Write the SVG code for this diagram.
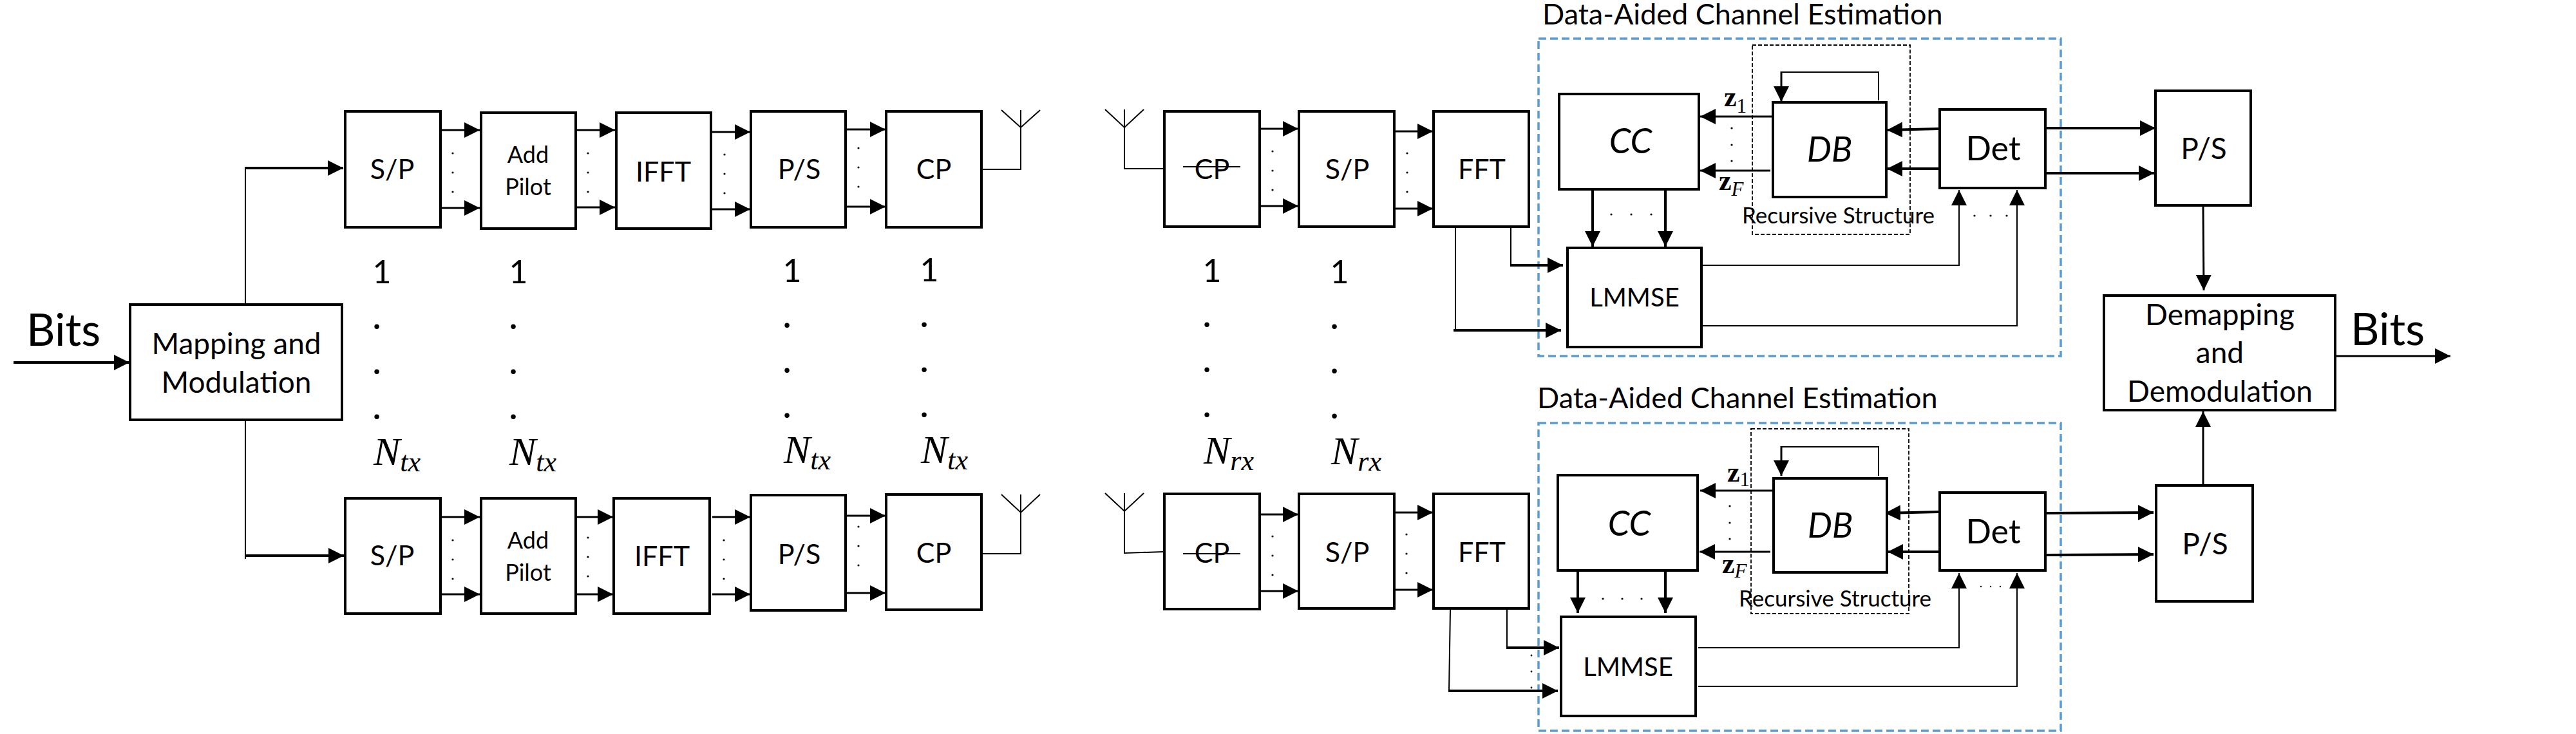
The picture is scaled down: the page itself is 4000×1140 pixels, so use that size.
<svg xmlns="http://www.w3.org/2000/svg" width="4000" height="1140" viewBox="0 0 4000 1140">
<style>
text{font-family:"Lato","Open Sans","Liberation Sans",sans-serif;fill:#000;text-anchor:middle}
.box{fill:#fff;stroke:#000;stroke-width:4}
.t44{font-size:46px}.t40{font-size:43px}.t36{font-size:36px}.t38{font-size:40px}.t50{font-size:54px;font-style:italic}.t49{font-size:52px}.t1{font-size:50px}
.bits{font-size:69px;text-anchor:start}
.title{font-size:45px;text-anchor:start}
.rec{font-size:35px;text-anchor:start}
.dot{font-size:60px}
.m{font-family:"Liberation Serif",serif;font-style:italic;font-size:62px;text-anchor:start}
.m tspan{font-size:44px}
.z{font-family:"Liberation Serif",serif;font-weight:bold;font-size:44px;text-anchor:start}
.z tspan{font-family:"Liberation Serif",serif;font-weight:normal;font-size:31px}
.z .i{font-style:italic}
.c path,.c polyline,.c line{fill:none;stroke:#000}
.thin{stroke-width:2}.med{stroke-width:3}.thick{stroke-width:4}
.arr{marker-end:url(#a)}
.blue{fill:none;stroke:#5b9bd5;stroke-width:3.5;stroke-dasharray:12 6}
.rs{fill:none;stroke:#000;stroke-width:1.8;stroke-dasharray:6 3}
.ant{fill:none;stroke:#000;stroke-width:2}
.strike{stroke:#000;stroke-width:2}
.sd{fill:#000}
</style>
<defs>
<marker id="a" markerUnits="userSpaceOnUse" markerWidth="24" markerHeight="24" refX="24" refY="12" orient="auto"><path d="M0,0L24,12L0,24z" fill="#000"/></marker>
<g id="d3v"><circle cx="0" cy="0" r="1.6"/><circle cx="0" cy="30" r="1.6"/><circle cx="0" cy="60" r="1.6"/></g>
</defs>

<g id="regions">
<rect class="blue" x="2389" y="60" width="811" height="493"/>
<rect class="rs" x="2721" y="70" width="245" height="294"/>
<rect class="blue" x="2389" y="657" width="811" height="478"/>
<rect class="rs" x="2719" y="666" width="245" height="287"/>
</g>

<g id="connectors" class="c">
<line class="thick arr" x1="21" y1="563" x2="201" y2="563"/>
<polyline class="thin" points="381,475 381,261"/><line class="thick arr" x1="380" y1="261" x2="533" y2="261"/>
<polyline class="thin" points="381,653 381,868"/><line class="thick arr" x1="380" y1="863" x2="534" y2="863"/>
<!-- tx upper -->
<line class="med arr" x1="686" y1="202" x2="745" y2="202"/><line class="med arr" x1="686" y1="323" x2="745" y2="323"/>
<line class="med arr" x1="895" y1="202" x2="955" y2="202"/><line class="med arr" x1="895" y1="322" x2="955" y2="322"/>
<line class="med arr" x1="1106" y1="205" x2="1165" y2="205"/><line class="med arr" x1="1106" y1="325" x2="1165" y2="325"/>
<line class="med arr" x1="1315" y1="201" x2="1375" y2="201"/><line class="med arr" x1="1315" y1="321" x2="1375" y2="321"/>
<!-- tx lower -->
<line class="med arr" x1="686" y1="803" x2="745" y2="803"/><line class="med arr" x1="686" y1="923" x2="745" y2="923"/>
<line class="med arr" x1="895" y1="803" x2="952" y2="803"/><line class="med arr" x1="895" y1="923" x2="952" y2="923"/>
<line class="med arr" x1="1106" y1="803" x2="1165" y2="803"/><line class="med arr" x1="1106" y1="923" x2="1165" y2="923"/>
<line class="med arr" x1="1315" y1="801" x2="1375" y2="801"/><line class="med arr" x1="1315" y1="921" x2="1375" y2="921"/>
<!-- rx upper -->
<line class="med arr" x1="1958" y1="200" x2="2016" y2="200"/><line class="med arr" x1="1958" y1="320" x2="2016" y2="320"/>
<line class="med arr" x1="2167" y1="204" x2="2225" y2="204"/><line class="med arr" x1="2167" y1="324" x2="2225" y2="324"/>
<polyline class="thin" points="2346,354 2346,412"/><line class="thick arr" x1="2345" y1="412" x2="2427" y2="412"/>
<polyline class="thin" points="2260,354 2260,513"/><line class="thick arr" x1="2257" y1="513" x2="2424" y2="513"/>
<line class="thick arr" x1="2473" y1="295" x2="2473" y2="383"/><line class="thick arr" x1="2586" y1="295" x2="2586" y2="383"/>
<line class="med arr" x1="2752" y1="181" x2="2640" y2="181"/><line class="med arr" x1="2749" y1="265" x2="2640" y2="265"/>
<line class="thick arr" x1="3010" y1="200" x2="2930" y2="202"/><line class="thick arr" x1="3010" y1="262" x2="2930" y2="262"/>
<polyline class="thin" points="2917,156 2917,112 2766,112"/><line class="med arr" x1="2766" y1="111" x2="2766" y2="158"/>
<polyline class="thin arr" points="2644,412 3042,412 3042,295"/><polyline class="thin arr" points="2644,506 3132,506 3132,295"/>
<line class="thick arr" x1="3178" y1="199" x2="3347" y2="199"/><line class="thick arr" x1="3178" y1="269" x2="3345" y2="269"/>
<line class="med arr" x1="3421" y1="321" x2="3422" y2="451"/>
<!-- rx lower -->
<line class="med arr" x1="1958" y1="799" x2="2016" y2="799"/><line class="med arr" x1="1958" y1="918" x2="2016" y2="918"/>
<line class="med arr" x1="2167" y1="796" x2="2225" y2="796"/><line class="med arr" x1="2167" y1="916" x2="2225" y2="916"/>
<polyline class="thin" points="2340,947 2340,1006"/><line class="thick arr" x1="2339" y1="1006" x2="2421" y2="1006"/>
<polyline class="thin" points="2252,947 2250,1073"/><line class="thick arr" x1="2249" y1="1073" x2="2419" y2="1073"/>
<line class="thick arr" x1="2450" y1="888" x2="2450" y2="952"/><line class="thick arr" x1="2586" y1="888" x2="2586" y2="952"/>
<line class="med arr" x1="2752" y1="762" x2="2640" y2="762"/><line class="med arr" x1="2749" y1="857" x2="2639" y2="857"/>
<line class="thick arr" x1="3010" y1="795" x2="2927" y2="797"/><line class="thick arr" x1="3010" y1="857" x2="2931" y2="857"/>
<polyline class="thin" points="2917,739 2917,694 2766,694"/><line class="med arr" x1="2766" y1="693" x2="2766" y2="739"/>
<polyline class="thin arr" points="2637,1006 3042,1006 3042,890"/><polyline class="thin arr" points="2637,1066 3132,1066 3132,890"/>
<line class="thick arr" x1="3178" y1="797" x2="3344" y2="796"/><line class="thick arr" x1="3178" y1="862" x2="3344" y2="861"/>
<line class="med arr" x1="3421" y1="752" x2="3421" y2="639"/>
<line class="med arr" x1="3628" y1="553" x2="3805" y2="553"/>
</g>

<g id="ellipsis-marks" class="sd">
<use href="#d3v" x="703" y="238"/><use href="#d3v" x="913" y="238"/><use href="#d3v" x="1125" y="240"/><use href="#d3v" x="1333" y="230"/>
<use href="#d3v" x="703" y="839"/><use href="#d3v" x="913" y="835"/><use href="#d3v" x="1124" y="839"/><use href="#d3v" x="1333" y="818"/>
<use href="#d3v" x="1976" y="235"/><use href="#d3v" x="2185" y="238"/><use href="#d3v" x="1976" y="833"/><use href="#d3v" x="2184" y="830"/>
<circle cx="2502" cy="333" r="1.6"/><circle cx="2533" cy="333" r="1.6"/><circle cx="2564" cy="333" r="1.6"/>
<circle cx="2689" cy="199" r="1.6"/><circle cx="2689" cy="225" r="1.6"/><circle cx="2689" cy="250" r="1.6"/>
<circle cx="3066" cy="335" r="1.6"/><circle cx="3091" cy="335" r="1.6"/><circle cx="3116" cy="335" r="1.6"/>
<circle cx="2489" cy="930" r="1.6"/><circle cx="2519" cy="930" r="1.6"/><circle cx="2549" cy="930" r="1.6"/>
<circle cx="2686" cy="786" r="1.6"/><circle cx="2686" cy="812" r="1.6"/><circle cx="2686" cy="837" r="1.6"/>
<circle cx="3076" cy="911" r="1.2"/><circle cx="3091" cy="911" r="1.2"/><circle cx="3106" cy="911" r="1.2"/>
<circle cx="2378" cy="1018" r="1.4"/><circle cx="2378" cy="1043" r="1.4"/><circle cx="2378" cy="1068" r="1.4"/>
</g>

<g id="tx-indices">
<text class="t1" x="593" y="440">1</text><text class="dot" x="585" y="511">.</text><text class="dot" x="585" y="581">.</text><text class="dot" x="585" y="651">.</text>
<text class="m" x="580" y="722">N<tspan dy="10">tx</tspan></text>
<text class="t1" x="805" y="440">1</text><text class="dot" x="797" y="511">.</text><text class="dot" x="797" y="581">.</text><text class="dot" x="797" y="651">.</text>
<text class="m" x="791" y="722">N<tspan dy="10">tx</tspan></text>
<text class="t1" x="1230" y="438">1</text><text class="dot" x="1222" y="509">.</text><text class="dot" x="1222" y="579">.</text><text class="dot" x="1222" y="649">.</text>
<text class="m" x="1217" y="719">N<tspan dy="10">tx</tspan></text>
<text class="t1" x="1443" y="437">1</text><text class="dot" x="1435" y="508">.</text><text class="dot" x="1435" y="578">.</text><text class="dot" x="1435" y="648">.</text>
<text class="m" x="1430" y="719">N<tspan dy="10">tx</tspan></text>
</g>
<g id="rx-indices">
<text class="t1" x="1882" y="438">1</text><text class="dot" x="1874" y="508">.</text><text class="dot" x="1874" y="578">.</text><text class="dot" x="1874" y="648">.</text>
<text class="m" x="1869" y="720">N<tspan dy="10">rx</tspan></text>
<text class="t1" x="2080" y="440">1</text><text class="dot" x="2072" y="511">.</text><text class="dot" x="2072" y="580">.</text><text class="dot" x="2072" y="650">.</text>
<text class="m" x="2067" y="721">N<tspan dy="10">rx</tspan></text>
</g>

<text class="bits" id="bits-in" x="41" y="537">Bits</text>
<g id="mapping"><rect class="box" x="202" y="473" width="329" height="179"/><text class="t44" x="367" y="550">Mapping and</text><text class="t44" x="367" y="610">Modulation</text></g>

<g id="tx1-sp"><rect class="box" x="536" y="173" width="148" height="180"/><text class="t40" x="609" y="278">S/P</text></g>
<g id="tx1-pilot"><rect class="box" x="747" y="175" width="147" height="180"/><text class="t36" x="820" y="253">Add</text><text class="t36" x="820" y="303">Pilot</text></g>
<g id="tx1-ifft"><rect class="box" x="957" y="175" width="147" height="180"/><text class="t40" x="1030" y="282">IFFT</text></g>
<g id="tx1-ps"><rect class="box" x="1166" y="173" width="147" height="180"/><text class="t40" x="1241" y="278">P/S</text></g>
<g id="tx1-cp"><rect class="box" x="1376" y="173" width="148" height="180"/><text class="t40" x="1450" y="278">CP</text></g>
<g id="tx1-ant"><path class="ant" d="M1525,263H1585V171M1555,171L1585,198L1615,171"/></g>

<g id="tx2-sp"><rect class="box" x="536" y="774" width="148" height="179"/><text class="t40" x="609" y="878">S/P</text></g>
<g id="tx2-pilot"><rect class="box" x="747" y="774" width="147" height="179"/><text class="t36" x="820" y="852">Add</text><text class="t36" x="820" y="902">Pilot</text></g>
<g id="tx2-ifft"><rect class="box" x="953" y="774" width="149" height="179"/><text class="t40" x="1028" y="879">IFFT</text></g>
<g id="tx2-ps"><rect class="box" x="1166" y="769" width="147" height="179"/><text class="t40" x="1241" y="876">P/S</text></g>
<g id="tx2-cp"><rect class="box" x="1376" y="768" width="148" height="179"/><text class="t40" x="1450" y="874">CP</text></g>
<g id="tx2-ant"><path class="ant" d="M1525,860H1585V768M1555,768L1585,796L1615,768"/></g>

<g id="rx1-ant"><path class="ant" d="M1806,262H1746V170M1716,170L1746,198L1776,170"/></g>
<g id="rx1-cp"><rect class="box" x="1808" y="173" width="148" height="179"/><text class="t40" x="1882" y="278">CP</text><line class="strike" x1="1837" y1="259" x2="1926" y2="259"/></g>
<g id="rx1-sp"><rect class="box" x="2017" y="173" width="148" height="179"/><text class="t40" x="2092" y="278">S/P</text></g>
<g id="rx1-fft"><rect class="box" x="2226" y="173" width="148" height="179"/><text class="t40" x="2301" y="278">FFT</text></g>
<g id="rx2-ant"><path class="ant" d="M1806,857L1746,859V766M1716,766L1746,794L1776,766"/></g>
<g id="rx2-cp"><rect class="box" x="1808" y="767" width="148" height="179"/><text class="t40" x="1882" y="874">CP</text><line class="strike" x1="1837" y1="860" x2="1926" y2="860"/></g>
<g id="rx2-sp"><rect class="box" x="2017" y="767" width="148" height="178"/><text class="t40" x="2092" y="873">S/P</text></g>
<g id="rx2-fft"><rect class="box" x="2226" y="767" width="148" height="178"/><text class="t40" x="2301" y="873">FFT</text></g>

<text class="title" id="title1" x="2395" y="38">Data-Aided Channel Estimation</text>
<g id="cc1"><rect class="box" x="2421" y="146" width="217" height="148"/><text class="t50" x="2532" y="238">CC</text></g>
<g id="db1"><rect class="box" x="2753" y="159" width="176" height="147"/><text class="t50" x="2841" y="251">DB</text></g>
<g id="det1"><rect class="box" x="3012" y="170" width="164" height="122"/><text class="t49" x="3095" y="249">Det</text></g>
<g id="lmmse1"><rect class="box" x="2434" y="385" width="208" height="154"/><text class="t38" x="2538" y="476">LMMSE</text></g>
<text class="z" x="2677" y="165">z<tspan dy="10">1</tspan></text>
<text class="z" x="2669" y="295">z<tspan class="i" dy="9">F</tspan></text>
<text class="rec" x="2705" y="347">Recursive Structure</text>

<text class="title" id="title2" x="2387" y="634">Data-Aided Channel Estimation</text>
<g id="cc2"><rect class="box" x="2419" y="738" width="217" height="148"/><text class="t50" x="2530" y="832">CC</text></g>
<g id="db2"><rect class="box" x="2754" y="743" width="176" height="146"/><text class="t50" x="2842" y="835">DB</text></g>
<g id="det2"><rect class="box" x="3012" y="765" width="164" height="121"/><text class="t49" x="3095" y="844">Det</text></g>
<g id="lmmse2"><rect class="box" x="2424" y="958" width="209" height="154"/><text class="t38" x="2528" y="1050">LMMSE</text></g>
<text class="z" x="2682" y="748">z<tspan dy="7">1</tspan></text>
<text class="z" x="2674" y="890">z<tspan class="i" dy="7">F</tspan></text>
<text class="rec" x="2700" y="942">Recursive Structure</text>

<g id="ps1"><rect class="box" x="3347" y="141" width="148" height="178"/><text class="t44" x="3422" y="247">P/S</text></g>
<g id="ps2"><rect class="box" x="3348" y="754" width="150" height="180"/><text class="t44" x="3424" y="861">P/S</text></g>
<g id="demap"><rect class="box" x="3267" y="459" width="359" height="178"/><text class="t44" x="3447" y="505">Demapping</text><text class="t44" x="3447" y="564">and</text><text class="t44" x="3447" y="624">Demodulation</text></g>
<text class="bits" id="bits-out" x="3650" y="536">Bits</text>
</svg>
